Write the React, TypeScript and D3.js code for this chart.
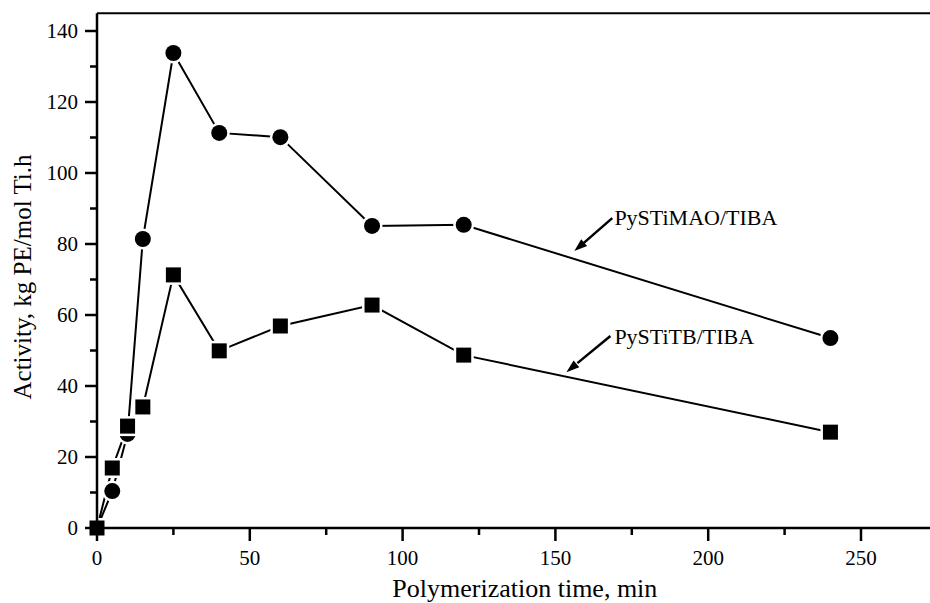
import React from 'react';
import * as d3 from 'd3';

// polymerization time (min)
const times = [0, 5, 10, 15, 25, 40, 60, 90, 120, 240];
// activity, kg PE/mol Ti.h
const maoValues = [0, 10.4, 26.5, 81.4, 133.8, 111.3, 110.1, 85.1, 85.4, 53.5];
const tbValues = [0, 16.9, 28.7, 34.1, 71.3, 49.9, 56.9, 62.8, 48.7, 27.0];

const xMajorTicks = [0, 50, 100, 150, 200, 250];
const xMinorTicks = [25, 75, 125, 175, 225, 275];
const yMajorTicks = [0, 20, 40, 60, 80, 100, 120, 140];
const yMinorTicks = [10, 30, 50, 70, 90, 110, 130];

// labels with arrows, in data units
const annotations = [
  { label: 'PySTiMAO/TIBA', tx: 169.3, ty: 85.4, from: [168.6, 87.3], to: [156.2, 78.0] },
  { label: 'PySTiTB/TIBA', tx: 169.3, ty: 51.8, from: [168.0, 54.1], to: [153.6, 43.9] },
];

const W = 930;
const H = 603;

export default function App() {
  const x = d3.scaleLinear().domain([0, 280]).range([97, 97 + 280 * 3.056]);
  const y = d3.scaleLinear().domain([0, 145]).range([528, 528 - 145 * 3.55]);

  const line = d3.line<number>()
    .x((_, i) => x(times[i]))
    .y(d => y(d));

  const [x0, x1] = x.range();
  const [y0, y1] = y.range();

  const arrowHead = (fx: number, fy: number, tx: number, ty: number) => {
    const ang = Math.atan2(ty - fy, tx - fx);
    const len = 13, half = 4.5;
    const bx = tx - Math.cos(ang) * len, by = ty - Math.sin(ang) * len;
    const px = -Math.sin(ang) * half, py = Math.cos(ang) * half;
    return `M${tx},${ty}L${bx + px},${by + py}L${bx - px},${by - py}Z`;
  };

  return (
    <svg width={W} height={H} style={{ position: 'absolute', left: 0, top: 0, background: '#fff', fontFamily: "'Liberation Serif', 'Times New Roman', serif" }}>
      {/* frame top */}
      <line x1={x0} x2={x1} y1={y1} y2={y1} stroke="#000" strokeWidth={2} />

      {/* series lines */}
      <path d={line(maoValues) || ''} fill="none" stroke="#000" strokeWidth={2} />
      <path d={line(tbValues) || ''} fill="none" stroke="#000" strokeWidth={2} />

      {/* markers */}
      {maoValues.map((v, i) => (
        <g key={'c' + i}>
          <circle cx={x(times[i])} cy={y(v)} r={10.5} fill="#fff" />
          <circle cx={x(times[i])} cy={y(v)} r={8} fill="#000" />
        </g>
      ))}
      {tbValues.map((v, i) => (
        <g key={'s' + i}>
          <rect x={x(times[i]) - 10} y={y(v) - 10} width={20} height={20} fill="#fff" />
          <rect x={x(times[i]) - 7.5} y={y(v) - 7.5} width={15} height={15} fill="#000" />
        </g>
      ))}

      {/* axes */}
      <line x1={x0} x2={x0} y1={y1} y2={y0} stroke="#000" strokeWidth={2.5} />
      <line x1={x0 - 1} x2={x1} y1={y0} y2={y0} stroke="#000" strokeWidth={2.5} />

      {yMajorTicks.map(t => (
        <g key={'ym' + t}>
          <line x1={x0 - 12} x2={x0} y1={y(t)} y2={y(t)} stroke="#000" strokeWidth={2.5} />
          <text x={78} y={y(t)} dy="0.35em" textAnchor="end" fontSize={21}>{t}</text>
        </g>
      ))}
      {yMinorTicks.map(t => (
        <line key={'yn' + t} x1={x0 - 7} x2={x0} y1={y(t)} y2={y(t)} stroke="#000" strokeWidth={2.5} />
      ))}
      {xMajorTicks.map(t => (
        <g key={'xm' + t}>
          <line x1={x(t)} x2={x(t)} y1={y0} y2={y0 + 13} stroke="#000" strokeWidth={2.5} />
          <text x={x(t)} y={565} textAnchor="middle" fontSize={21}>{t}</text>
        </g>
      ))}
      {xMinorTicks.map(t => (
        <line key={'xn' + t} x1={x(t)} x2={x(t)} y1={y0} y2={y0 + 7} stroke="#000" strokeWidth={2.5} />
      ))}

      {/* axis titles */}
      <text x={(x0 + x1) / 2} y={597} textAnchor="middle" fontSize={26}>Polymerization time, min</text>
      <text transform={`translate(31,277) rotate(-90)`} textAnchor="middle" fontSize={25}>Activity, kg PE/mol Ti.h</text>

      {/* annotations */}
      {annotations.map(a => {
        const fx = x(a.from[0]), fy = y(a.from[1]);
        const tx = x(a.to[0]), ty = y(a.to[1]);
        return (
          <g key={a.label}>
            <line x1={fx} y1={fy} x2={tx + (fx - tx) * 0.25} y2={ty + (fy - ty) * 0.25} stroke="#000" strokeWidth={2.5} />
            <path d={arrowHead(fx, fy, tx, ty)} fill="#000" />
            <text x={x(a.tx)} y={y(a.ty)} fontSize={22}>{a.label}</text>
          </g>
        );
      })}
    </svg>
  );
}
